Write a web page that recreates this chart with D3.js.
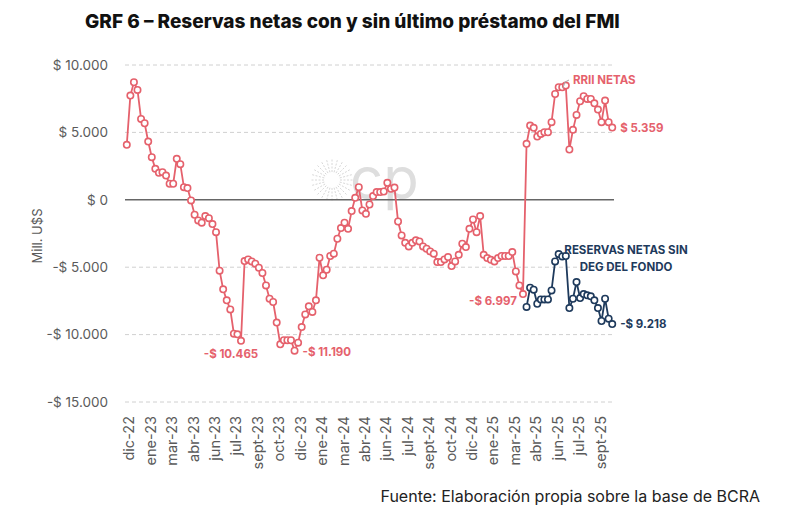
<!DOCTYPE html>
<html>
<head>
<meta charset="utf-8">
<script src="https://cdn.jsdelivr.net/npm/d3@7"></script>
<style>
  body { margin: 0; background: #fff; }
  svg { font-family: Inter, "Noto Sans", sans-serif; }
</style>
</head>
<body>
<div id="chart"></div>
<script>
// Weekly net reserves (mill. US$), dic-22 .. sept-25
const netReserves = [
  4080, 7730, 8720, 8150, 6000, 5680, 4320, 3160, 2300, 2000,
  2050, 1800, 1190, 1190, 3040, 2640, 940, 870, -50, -1110,
  -1530, -1700, -1210, -1360, -1800, -2400, -5260, -6640, -7460, -8130,
  -9930, -9980, -10465, -4545, -4420, -4570, -4740, -5040, -5430, -6350,
  -7340, -7580, -9110, -10720, -10420, -10420, -10420, -11190, -10600, -9440,
  -8500, -7900, -8320, -7460, -4300, -5600, -5190, -4170, -4000, -2890,
  -2100, -1700, -2150, -840, 150, 940, -790, -1040, -350, 275,
  570, 570, 615, 1260, 815, 910, -1610, -2640, -3190, -3460,
  -3190, -3010, -3090, -3460, -3630, -3830, -4000, -4620, -4620, -4420,
  -4250, -4920, -4570, -4080, -3260, -3510, -2150, -1460, -2400, -1210,
  -4080, -4320, -4450, -4570, -4320, -4170, -4170, -4170, -3880, -5310,
  -6350, -6997, 4150, 5510, 5340, 4690, 4890, 5010, 5010, 5760,
  7850, 8350, 8350, 8470, 3730, 5190, 6300, 7310, 7680, 7480,
  7480, 7160, 6690, 5760, 7360, 5760, 5359
];

// Net reserves without the IMF DEG, starting with the week of the loan
const noImfStart = 112;
const netNoImf = [
  -7950, -6520, -6670, -7710, -7390, -7390, -7390, -6720, -4570, -4030,
  -4200, -4170, -8030, -7340, -6100, -7290, -6990, -7090, -7160, -7460,
  -8030, -8990, -7340, -8820, -9218
];

// one label every 6 weeks
const tickLabels = ['dic-22', 'ene-23', 'mar-23', 'abr-23', 'jun-23', 'jul-23', 'sept-23',
  'oct-23', 'dic-23', 'ene-24', 'mar-24', 'abr-24', 'jun-24', 'jul-24', 'sept-24', 'oct-24',
  'dic-24', 'ene-25', 'mar-25', 'abr-25', 'jun-25', 'jul-25', 'sept-25'];
const labelStep = 6;

const yTicks = [10000, 5000, 0, -5000, -10000, -15000];

const red = '#e5616c';
const blue = '#1e3a5c';
const grey = '#5a5a5a';

const W = 790, H = 528;
const svg = d3.select('#chart').append('svg')
  .attr('width', W)
  .attr('height', H);

const x = d3.scalePoint()
  .domain(d3.range(netReserves.length))
  .range([125, 614])
  .padding(0.5);

const y = d3.scaleLinear()
  .domain([-15000, 10000])
  .range([402, 65]);

const fmt = v => {
  const s = d3.format(',')(Math.abs(v)).replace(/,/g, '.');
  return (v < 0 ? '-$ ' : '$ ') + s;
};

// Title
svg.append('text')
  .attr('x', 85)
  .attr('y', 28)
  .style('font-size', '19px')
  .style('font-weight', 800)
  .style('fill', '#111')
  .text('GRF 6 – Reservas netas con y sin último préstamo del FMI');

// Watermark
const wm = svg.append('g').attr('transform', 'translate(332,180)');
d3.range(24).forEach(i => {
  const a = i / 24 * 2 * Math.PI;
  wm.append('line')
    .attr('x1', Math.cos(a) * 8).attr('y1', Math.sin(a) * 8)
    .attr('x2', Math.cos(a) * 21).attr('y2', Math.sin(a) * 21)
    .style('stroke', '#d8d8d8')
    .style('stroke-width', 1)
    .style('stroke-dasharray', '2,1.5');
});
svg.append('text')
  .attr('x', 350)
  .attr('y', 199)
  .style('font-size', '58px')
  .style('fill', '#dedede')
  .text('cp');

// Grid
const grid = svg.append('g');
grid.selectAll('line')
  .data(yTicks)
  .enter()
  .append('line')
  .attr('x1', 125)
  .attr('x2', 614)
  .attr('y1', d => y(d))
  .attr('y2', d => y(d))
  .style('stroke', d => d === 0 ? '#666' : '#d0d0d0')
  .style('stroke-width', d => d === 0 ? 1.5 : 1)
  .style('stroke-dasharray', d => d === 0 ? null : '4,3');

// Y axis
const yAxis = svg.append('g')
  .attr('transform', 'translate(110,0)')
  .call(d3.axisLeft(y).tickValues(yTicks).tickFormat(fmt).tickSize(0));
yAxis.select('.domain').remove();
yAxis.selectAll('text')
  .attr('x', -2)
  .style('fill', grey)
  .style('font-size', '13.5px')
  .style('font-family', 'Inter, sans-serif');

svg.append('text')
  .attr('transform', 'translate(42,236) rotate(-90)')
  .style('text-anchor', 'middle')
  .style('fill', grey)
  .style('font-size', '13px')
  .text('Mill. U$S');

// X axis
const xAxis = svg.append('g')
  .attr('transform', 'translate(0,415)')
  .call(d3.axisBottom(x)
    .tickValues(d3.range(0, netReserves.length, labelStep))
    .tickFormat(i => tickLabels[i / labelStep])
    .tickSize(0));
xAxis.select('.domain').remove();
xAxis.selectAll('text')
  .attr('transform', 'rotate(-90)')
  .attr('x', -1)
  .attr('y', 2)
  .attr('dy', '0.35em')
  .style('text-anchor', 'end')
  .style('fill', grey)
  .style('font-size', '14.5px')
  .style('font-family', 'Inter, sans-serif');

// Lines
const line = d3.line()
  .x(d => x(d.i))
  .y(d => y(d.v));

const redData = netReserves.map((v, i) => ({ i, v }));
const blueData = netNoImf.map((v, k) => ({ i: noImfStart + k, v }));

function drawSeries(data, color) {
  svg.append('path')
    .datum(data)
    .attr('d', line)
    .style('fill', 'none')
    .style('stroke', color)
    .style('stroke-width', 1.8);
  svg.append('g')
    .selectAll('circle')
    .data(data)
    .enter()
    .append('circle')
    .attr('cx', d => x(d.i))
    .attr('cy', d => y(d.v))
    .attr('r', 3.2)
    .style('fill', '#fff')
    .style('stroke', color)
    .style('stroke-width', 1.6);
}
drawSeries(redData, red);
drawSeries(blueData, blue);

// Annotations
function note(txt, px, py, color, anchor) {
  svg.append('text')
    .attr('x', px)
    .attr('y', py)
    .style('text-anchor', anchor || 'start')
    .style('fill', color)
    .style('font-size', '11.5px')
    .style('font-weight', 700)
    .text(txt);
}
const last = netReserves.length - 1;
note(fmt(netReserves[last]), x(last) + 8, y(netReserves[last]) + 4, red);
note(fmt(netReserves[32]), x(32) - 10, y(netReserves[32]) + 17, red, 'middle');
note(fmt(netReserves[47]), x(47) + 8, y(netReserves[47]) + 5, red);
note(fmt(netReserves[111]), x(111) - 6, y(netReserves[111]) + 11, red, 'end');
const lastB = netNoImf.length - 1;
note(fmt(netNoImf[lastB]), x(noImfStart + lastB) + 8, y(netNoImf[lastB]) + 4, blue);

note('RRII NETAS', 573, 84, red);
svg.append('path')
  .attr('d', 'M563,88 L565,82 L569,80')
  .style('fill', 'none')
  .style('stroke', '#aaa')
  .style('stroke-width', 1);

note('RESERVAS NETAS SIN', 626, 254, blue, 'middle');
note('DEG DEL FONDO', 626, 271, blue, 'middle');

// Source
svg.append('text')
  .attr('x', 760)
  .attr('y', 502)
  .style('text-anchor', 'end')
  .style('fill', '#222')
  .style('font-size', '16px')
  .text('Fuente: Elaboración propia sobre la base de BCRA');
</script>
</body>
</html>
